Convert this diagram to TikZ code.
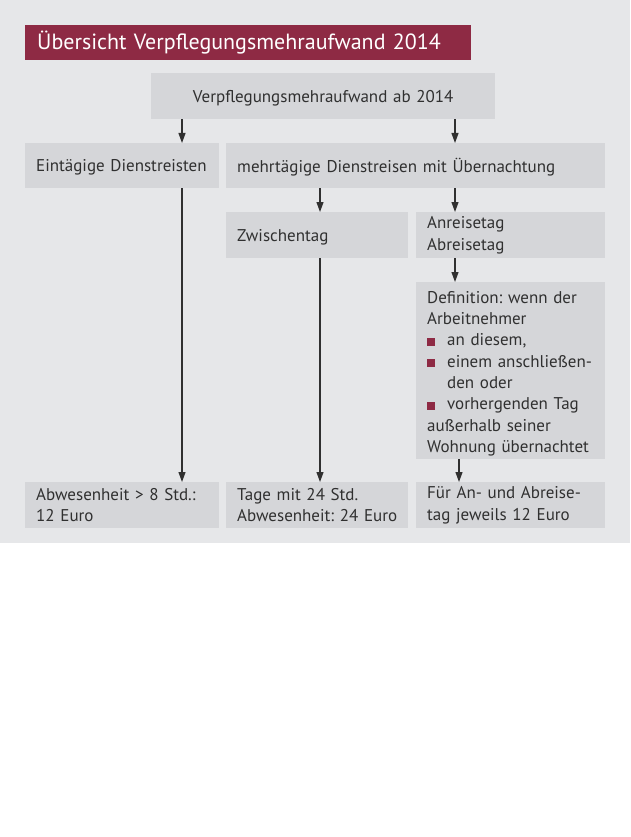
\documentclass[tikz,border=0pt]{standalone}
\usepackage{fontspec}
\setmainfont{PT Sans}
\usetikzlibrary{arrows.meta}
\definecolor{bggray}{HTML}{E6E7E9}
\definecolor{boxgray}{HTML}{D5D6D9}
\definecolor{titlered}{HTML}{8E2A44}
\definecolor{txtgray}{HTML}{303030}
\newcommand{\sqbullet}{\makebox[20pt][l]{\textcolor{titlered}{\rule{8pt}{8pt}}}}
\frenchspacing

\begin{document}
\begin{tikzpicture}[x=1pt,y=-1pt,
  box/.style={fill=boxgray, text=txtgray, anchor=north west, inner xsep=11pt,
    inner ysep=0pt, align=left, font=\fontsize{17}{21.3}\selectfont},
  oneline/.style={text depth=0pt},
  arr/.style={draw=txtgray, line width=1.1pt, -{Triangle[width=7pt,length=10pt]}}]
\useasboundingbox (0,0) rectangle (630,837);
\fill[bggray] (0,0) rectangle (630,543);
% title
\node[fill=titlered, text=white, anchor=north west, minimum height=35pt,
  inner xsep=12pt, inner ysep=0pt, text width=422pt, align=left,
  font=\fontsize{22}{24}\selectfont] (title) at (25,25) {Übersicht Verpflegungsmehraufwand 2014};
% boxes
\node[box, oneline, align=center, text width=322pt, minimum height=46pt] (top) at (151,73) {Verpflegungsmehraufwand ab 2014};
\node[box, oneline, text width=172pt, minimum height=45pt] (ein) at (25,143) {Eintägige Dienstreisten};
\node[box, oneline, text width=357pt, minimum height=45pt] (mehr) at (226,143) {mehrtägige Dienstreisen mit Übernachtung};
\node[box, oneline, text width=160pt, minimum height=46pt] (zwi) at (226,212) {Zwischentag};
\node[box, text width=167pt, minimum height=46pt] (anr) at (416,212) {Anreisetag\\Abreisetag};
\node[box, text width=167pt, minimum height=177pt] (defn) at (416,282) {\rule{0pt}{18pt}Definition: wenn der\\
  Arbeitnehmer\\
  \sqbullet an diesem,\\
  \sqbullet einem anschließen-\\
  \hspace*{20pt}den oder\\
  \sqbullet vorhergenden Tag\\
  außerhalb seiner\\
  Wohnung übernachtet};
\node[box, text width=172pt, minimum height=46pt] (res1) at (25,482) {Abwesenheit > 8 Std.:\\12 Euro};
\node[box, text width=160pt, minimum height=46pt] (res2) at (226,482) {Tage mit 24 Std.\\Abwesenheit: 24 Euro};
\node[box, text width=167pt, minimum height=46pt] (res3) at (416,482) {Für An- und Abreise-\\tag jeweils 12 Euro};
% arrows
\coordinate (c1) at (182,0);
\coordinate (c2) at (320,0);
\coordinate (c3) at (455,0);
\coordinate (c4) at (459,0);
\foreach \from/\to/\col in {top/ein/c1, top/mehr/c3, mehr/zwi/c2, mehr/anr/c3,
    anr/defn/c3, ein/res1/c1, zwi/res2/c2, defn/res3/c4} {
  \draw[arr] (\from.south -| \col) -- (\to.north -| \col);
}
\end{tikzpicture}
\end{document}
